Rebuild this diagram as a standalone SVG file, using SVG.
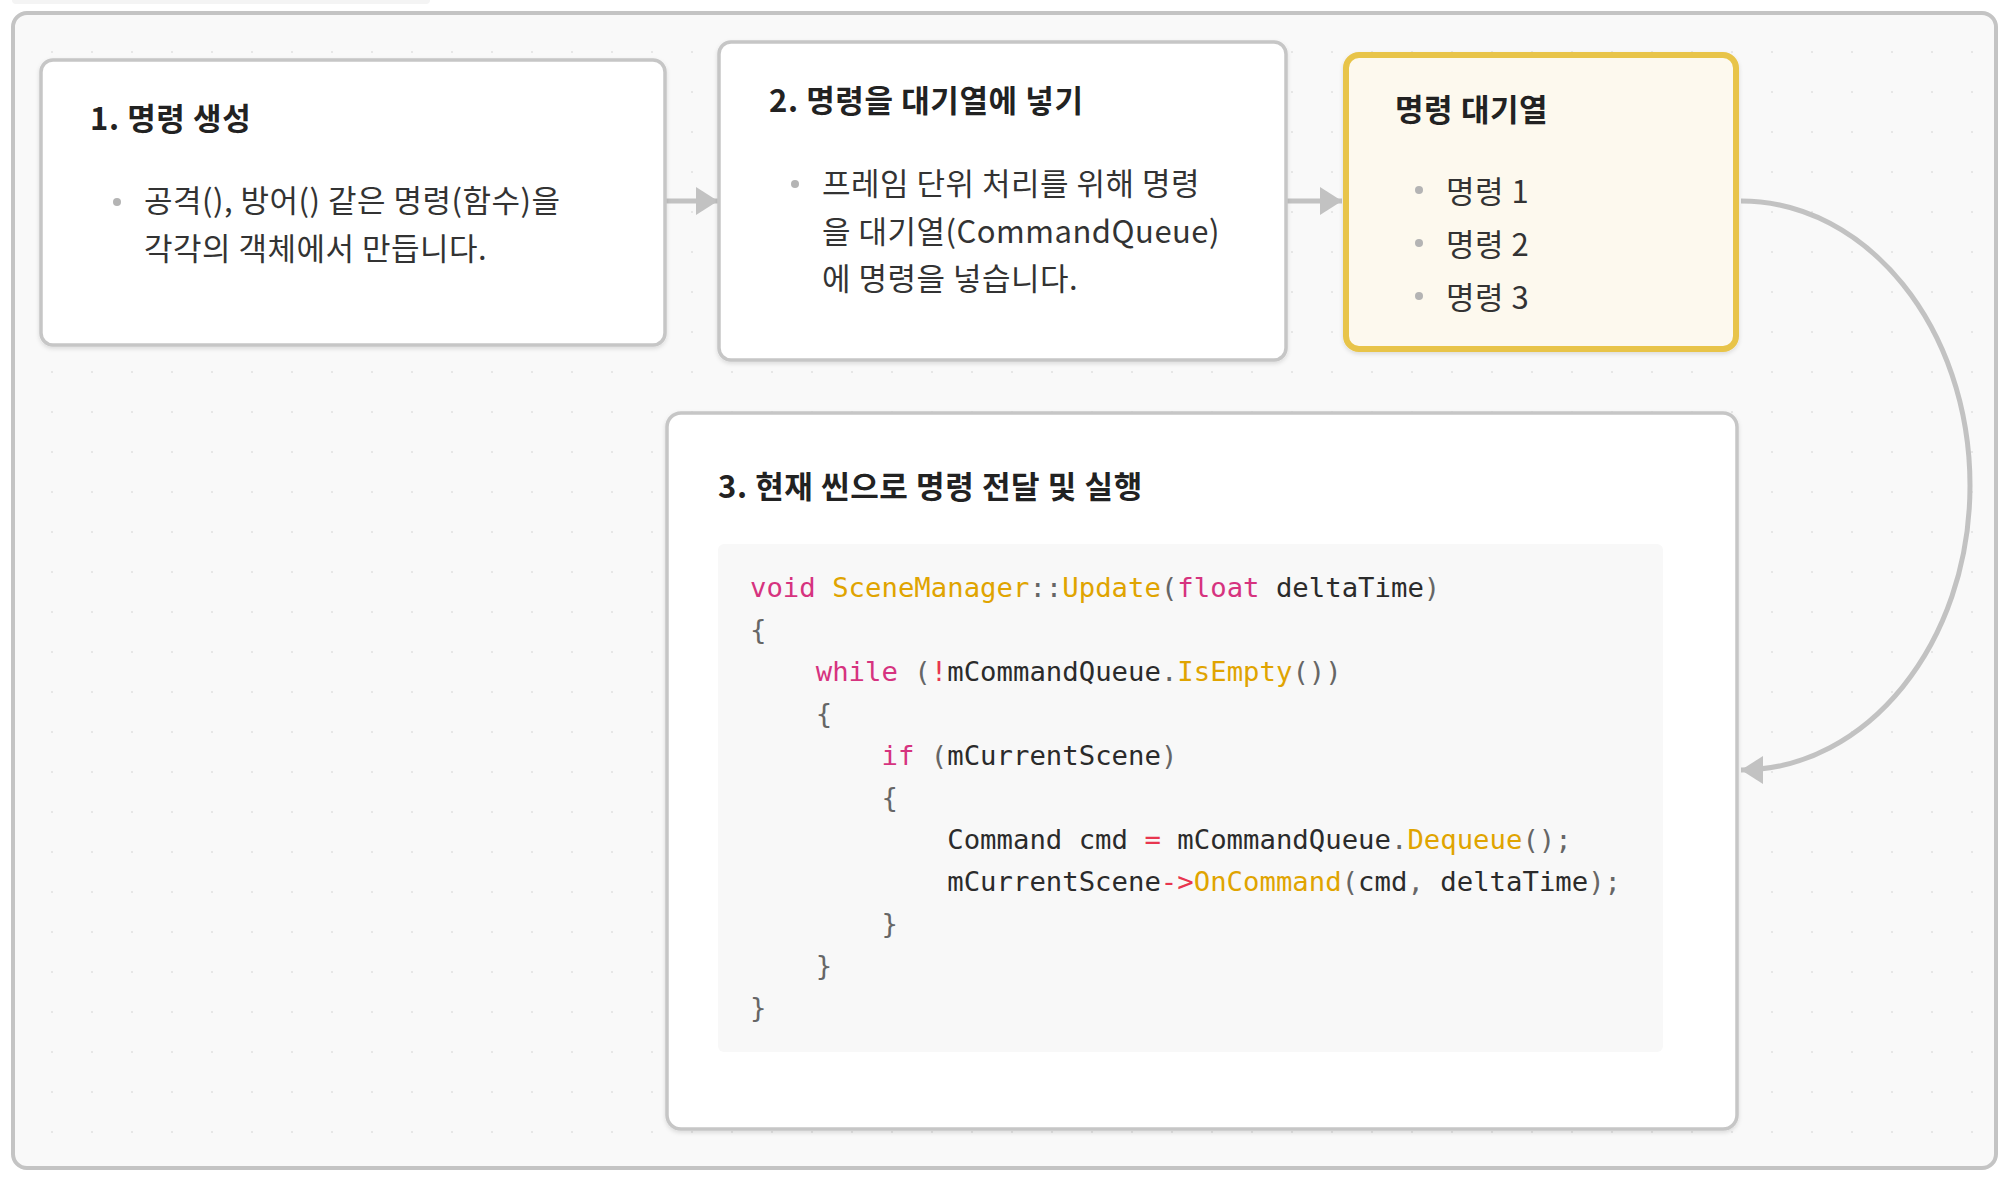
<svg xmlns="http://www.w3.org/2000/svg" width="2010" height="1182" viewBox="0 0 2010 1182">
<style>
.node{fill:#ffffff;stroke:#c6c6c6;stroke-width:3.5}
.queue{fill:#fdf9ee;stroke:#e8c44a;stroke-width:6}
.title{font-family:"Noto Sans CJK KR","Noto Sans",sans-serif;font-weight:700;font-size:31px;letter-spacing:0.6px;fill:#222}
.body{font-family:"Noto Sans CJK KR","Noto Sans",sans-serif;font-weight:400;font-size:31px;letter-spacing:0.5px;fill:#333}
.bullet{fill:#b4b4b4}
.code{font-family:"DejaVu Sans Mono","Liberation Mono",monospace;font-size:27.3px;fill:#2b2b2b}
.kw{fill:#d6337f}
.fn{fill:#e0a400}
.op{fill:#e8364f}
.pn{fill:#666666}
.conn{fill:none;stroke:#c2c2c2;stroke-width:5}
</style>
<defs>
<pattern id="dots" x="0" y="0" width="40" height="40" patternUnits="userSpaceOnUse">
<circle cx="12" cy="12" r="1" fill="#e2e2e2"/>
</pattern>
<marker id="arrow" markerUnits="userSpaceOnUse" markerWidth="24" markerHeight="30" refX="22" refY="14" orient="auto" viewBox="0 0 24 30">
<path d="M0,0 L22,14 L0,28 Z" fill="#c2c2c2"/>
</marker>
<filter id="shadow" x="-5%" y="-5%" width="110%" height="115%">
<feDropShadow dx="0" dy="2" stdDeviation="2" flood-color="#000" flood-opacity="0.12"/>
</filter>
</defs>
<rect x="0" y="0" width="2010" height="1182" fill="#ffffff"/>
<rect x="12" y="-10" width="418" height="14" rx="4" fill="#f4f4f4"/>
<rect x="13" y="13" width="1983" height="1155" rx="14" fill="#f9f9f9" stroke="#c4c4c4" stroke-width="4"/>
<rect x="15" y="15" width="1979" height="1151" rx="12" fill="url(#dots)"/>

<g id="connectors">
<line class="conn" x1="666" y1="201" x2="718" y2="201" marker-end="url(#arrow)"/>
<line class="conn" x1="1287" y1="201" x2="1342" y2="201" marker-end="url(#arrow)"/>
<path class="conn" d="M1741,201 C1867,201 1970,328 1970,485.5 C1970,643 1867,770 1741,770" marker-end="url(#arrow)"/>
</g>

<g id="node1">
<rect class="node" x="41" y="60" width="624" height="285" rx="12" filter="url(#shadow)"/>
<text class="title" x="90" y="130">1. 명령 생성</text>
<circle class="bullet" cx="117" cy="202" r="4"/>
<text class="body" x="144" y="212">공격(), 방어() 같은 명령(함수)을</text>
<text class="body" x="144" y="260">각각의 객체에서 만듭니다.</text>
</g>

<g id="node2">
<rect class="node" x="719" y="42" width="567" height="318" rx="12" filter="url(#shadow)"/>
<text class="title" x="769" y="112">2. 명령을 대기열에 넣기</text>
<circle class="bullet" cx="795" cy="184" r="4"/>
<text class="body" x="822" y="195">프레임 단위 처리를 위해 명령</text>
<text class="body" x="822" y="243">을 대기열(CommandQueue)</text>
<text class="body" x="822" y="290">에 명령을 넣습니다.</text>
</g>

<g id="node3">
<rect class="queue" x="1346" y="55" width="390" height="294" rx="13" filter="url(#shadow)"/>
<text class="title" x="1395" y="121">명령 대기열</text>
<circle class="bullet" cx="1419" cy="190" r="4"/>
<text class="body" x="1446" y="203">명령 1</text>
<circle class="bullet" cx="1419" cy="243" r="4"/>
<text class="body" x="1446" y="256">명령 2</text>
<circle class="bullet" cx="1419" cy="296" r="4"/>
<text class="body" x="1446" y="309">명령 3</text>
</g>

<g id="node4">
<rect class="node" x="667" y="413" width="1070" height="716" rx="14" filter="url(#shadow)"/>
<text class="title" x="718" y="498">3. 현재 씬으로 명령 전달 및 실행</text>
<rect x="718" y="544" width="945" height="508" rx="6" fill="#f8f8f8"/>
<text class="code" x="750" y="597" xml:space="preserve"><tspan class="kw">void</tspan> <tspan class="fn">SceneManager</tspan><tspan class="pn">::</tspan><tspan class="fn">Update</tspan><tspan class="pn">(</tspan><tspan class="kw">float</tspan> deltaTime<tspan class="pn">)</tspan></text>
<text class="code" x="750" y="639" xml:space="preserve"><tspan class="pn">{</tspan></text>
<text class="code" x="750" y="681" xml:space="preserve">    <tspan class="kw">while</tspan> <tspan class="pn">(</tspan><tspan class="op">!</tspan>mCommandQueue<tspan class="pn">.</tspan><tspan class="fn">IsEmpty</tspan><tspan class="pn">())</tspan></text>
<text class="code" x="750" y="723" xml:space="preserve">    <tspan class="pn">{</tspan></text>
<text class="code" x="750" y="765" xml:space="preserve">        <tspan class="kw">if</tspan> <tspan class="pn">(</tspan>mCurrentScene<tspan class="pn">)</tspan></text>
<text class="code" x="750" y="807" xml:space="preserve">        <tspan class="pn">{</tspan></text>
<text class="code" x="750" y="849" xml:space="preserve">            Command cmd <tspan class="op">=</tspan> mCommandQueue<tspan class="pn">.</tspan><tspan class="fn">Dequeue</tspan><tspan class="pn">();</tspan></text>
<text class="code" x="750" y="891" xml:space="preserve">            mCurrentScene<tspan class="op">-&gt;</tspan><tspan class="fn">OnCommand</tspan><tspan class="pn">(</tspan>cmd<tspan class="pn">,</tspan> deltaTime<tspan class="pn">);</tspan></text>
<text class="code" x="750" y="933" xml:space="preserve">        <tspan class="pn">}</tspan></text>
<text class="code" x="750" y="975" xml:space="preserve">    <tspan class="pn">}</tspan></text>
<text class="code" x="750" y="1017" xml:space="preserve"><tspan class="pn">}</tspan></text>
</g>
</svg>
